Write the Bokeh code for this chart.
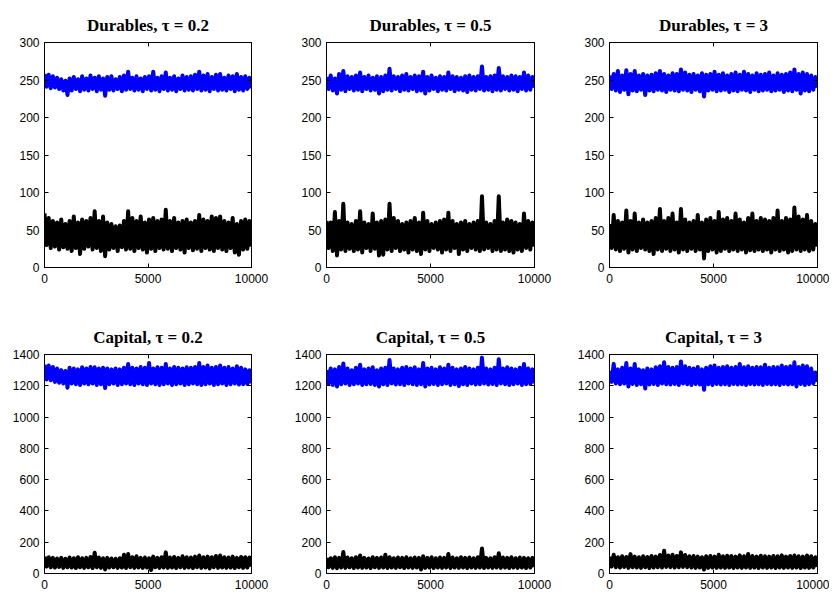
import numpy as np
from bokeh.plotting import figure
from bokeh.layouts import column, row
from bokeh.models import Range1d, FixedTicker, LinearAxis
from bokeh.embed import file_html
from bokeh.resources import INLINE

# ---- data (periods 0..10000) ----
# each series alternates local highs / lows of the noisy path
T_MAX = 10000
dur_ticks = [0, 50, 100, 150, 200, 250, 300]
cap_ticks = [0, 200, 400, 600, 800, 1000, 1200, 1400]
x_ticks = [0, 5000, 10000]

dur_02_blue = [258,241,257,239,255,240,253,238,251,236,249,230,252,236,254,238,251,235,255,237,
               252,236,256,238,253,235,255,237,252,229,254,237,255,236,251,238,254,235,256,237,
               261,238,253,236,255,237,252,235,254,238,255,236,261,237,253,235,255,238,260,236,
               253,237,255,235,252,238,256,236,254,237,255,236,257,238,261,236,256,237,258,235,
               254,238,257,236,258,237,253,236,256,238,255,235,258,237,254,236,255,238,253,239]
dur_02_black = [72,30,66,26,62,28,60,24,64,27,58,25,62,22,68,26,60,18,64,25,
                62,28,66,24,75,26,62,22,68,15,60,24,58,26,55,22,56,27,62,24,
                75,25,66,22,62,26,68,24,60,20,64,25,66,22,62,26,64,24,77,25,
                62,22,66,26,60,24,62,20,64,26,60,23,62,25,70,22,64,26,62,24,
                68,22,66,26,68,24,62,22,60,26,66,20,58,17,62,24,64,25,62,28]
dur_05_blue = [254,238,256,236,252,232,258,237,262,235,255,238,254,236,256,237,260,235,254,238,
               256,236,253,237,255,232,254,235,256,237,265,236,255,238,254,235,256,237,258,236,
               254,238,256,235,255,236,261,232,254,236,256,238,253,235,255,237,254,236,260,238,
               255,235,254,237,253,236,255,234,256,237,254,236,255,238,268,236,254,237,255,235,
               256,237,266,236,255,238,254,236,256,237,255,235,254,238,260,236,256,237,254,240]
dur_05_black = [62,26,60,22,74,16,62,24,85,22,60,25,58,22,62,24,75,20,60,26,
                58,22,72,25,60,16,62,17,64,24,85,22,66,26,62,22,58,24,60,20,
                62,24,66,22,60,18,73,24,62,22,58,26,60,24,62,20,64,24,73,22,
                62,26,58,18,60,24,62,22,58,26,60,24,62,22,95,24,60,26,58,22,
                62,24,95,22,60,24,64,22,62,20,60,24,58,22,72,26,62,24,60,28]
dur_3_blue = [256,238,258,236,262,234,256,237,263,231,258,236,262,235,256,237,258,230,256,236,
              257,235,259,237,262,236,258,234,256,237,259,236,258,235,264,237,260,236,257,234,
              258,237,256,235,259,228,257,236,258,237,261,235,257,236,259,237,256,234,258,236,
              260,235,257,237,261,236,258,234,256,237,259,235,257,236,258,237,260,235,256,236,
              259,237,257,234,258,236,260,235,264,237,258,232,260,236,258,235,256,237,254,240]
dur_3_black = [58,26,70,24,62,22,60,25,76,20,62,24,72,22,60,26,64,24,60,22,
               62,18,66,24,78,22,62,25,66,22,72,24,60,20,78,24,64,22,60,25,
               62,22,70,24,60,12,64,22,66,24,62,20,74,22,64,25,66,22,62,24,
               72,22,64,24,60,20,66,23,72,22,62,24,66,22,64,24,62,20,66,24,
               76,22,62,24,66,20,64,22,80,24,68,22,64,24,70,22,62,24,58,28]

cap_02_blue = [1335,1240,1330,1235,1320,1225,1310,1220,1300,1215,1295,1188,1315,1215,1310,1210,1305,1205,1318,1215,
               1310,1210,1320,1215,1318,1205,1310,1210,1315,1185,1310,1210,1305,1215,1310,1205,1305,1210,1315,1215,
               1340,1210,1315,1205,1310,1215,1320,1210,1315,1205,1345,1215,1310,1210,1318,1205,1315,1210,1340,1215,
               1310,1205,1320,1210,1315,1215,1310,1205,1318,1210,1315,1215,1320,1210,1345,1205,1320,1210,1330,1215,
               1315,1205,1320,1210,1330,1215,1315,1205,1320,1210,1310,1215,1325,1208,1315,1210,1305,1212,1300,1215]
cap_02_black = [108,45,104,40,100,38,96,42,100,36,94,40,102,38,98,35,104,40,98,36,
                100,40,106,35,132,40,102,36,98,26,100,38,96,40,94,36,98,38,120,35,
                125,40,104,36,110,38,100,36,102,38,98,22,108,40,100,36,104,38,135,36,
                102,38,106,35,100,40,110,36,104,38,102,35,108,40,115,36,104,38,108,32,
                104,40,112,36,115,38,104,36,102,38,108,35,100,40,106,36,104,38,102,45]
cap_05_blue = [1300,1215,1310,1205,1305,1195,1320,1210,1342,1215,1310,1205,1300,1210,1315,1215,1335,1205,1305,1210,
               1310,1212,1318,1205,1300,1195,1310,1210,1315,1205,1365,1215,1310,1208,1305,1210,1315,1205,1320,1215,
               1310,1210,1318,1205,1305,1210,1345,1195,1310,1208,1315,1212,1305,1205,1318,1210,1310,1215,1335,1205,
               1315,1210,1305,1198,1310,1210,1320,1205,1310,1215,1305,1208,1315,1210,1380,1215,1310,1208,1305,1212,
               1315,1205,1370,1215,1310,1210,1318,1205,1310,1210,1305,1215,1315,1205,1340,1210,1310,1212,1305,1215]
cap_05_black = [100,40,98,36,104,34,100,38,138,36,102,40,98,35,104,38,115,36,100,38,
                96,35,104,40,100,36,102,38,120,35,104,38,98,36,102,40,100,35,104,38,
                98,36,102,38,100,26,110,36,100,38,104,35,98,38,102,36,100,38,125,35,
                102,38,98,36,104,38,100,35,102,38,98,36,104,38,160,35,100,38,98,36,
                104,38,130,36,102,38,100,35,104,38,98,36,102,38,100,35,98,38,100,42]
cap_3_blue = [1295,1225,1340,1215,1305,1210,1315,1215,1345,1195,1310,1212,1340,1205,1305,1210,1300,1182,1310,1208,
              1305,1212,1318,1205,1325,1215,1350,1210,1320,1208,1315,1212,1320,1205,1355,1215,1325,1210,1315,1205,
              1310,1212,1320,1208,1305,1175,1315,1210,1325,1205,1330,1212,1315,1208,1320,1210,1325,1205,1315,1212,
              1320,1208,1340,1210,1318,1205,1325,1212,1315,1208,1320,1210,1318,1205,1335,1212,1315,1208,1320,1210,
              1318,1205,1330,1212,1320,1208,1325,1210,1350,1195,1320,1212,1330,1205,1325,1210,1310,1215,1285,1225]
cap_3_black = [108,45,120,40,104,38,110,42,106,36,124,40,108,38,104,36,110,40,106,35,
               112,38,108,40,118,38,145,42,115,40,120,38,112,40,135,42,118,40,110,38,
               112,36,108,38,104,25,110,36,112,38,108,36,120,38,110,36,114,38,112,35,
               108,38,116,36,110,38,125,36,112,38,108,35,114,38,110,36,108,38,112,35,
               110,38,116,36,108,38,112,36,115,38,110,35,108,38,115,36,110,38,104,42]

titles = ["Durables, \u03c4 = 0.2", "Durables, \u03c4 = 0.5", "Durables, \u03c4 = 3",
          "Capital, \u03c4 = 0.2", "Capital, \u03c4 = 0.5", "Capital, \u03c4 = 3"]

TICK_FONT = "Liberation Sans"
TITLE_FONT = "Liberation Serif"


def make_panel(title, blue, black, ymax, yticks, width, height, bl, br, bt, bb):
    p = figure(width=width, height=height, output_backend="svg", toolbar_location=None,
               x_range=Range1d(0, T_MAX), y_range=Range1d(0, ymax),
               min_border_left=bl, min_border_right=br, min_border_top=bt, min_border_bottom=bb,
               x_axis_location=None, y_axis_location=None)
    p.title.text = title
    p.title.align = "center"
    p.title.text_font = TITLE_FONT
    p.title.text_font_size = "17px"
    p.title.text_font_style = "bold"
    p.title.text_color = "black"
    p.title.standoff = 16
    p.grid.visible = False
    p.outline_line_color = "black"
    p.outline_line_width = 1
    p.background_fill_color = "white"
    p.border_fill_color = "white"

    for loc, ticks, show in (("left", yticks, True), ("right", yticks, False),
                             ("below", x_ticks, True), ("above", x_ticks, False)):
        ax = LinearAxis(ticker=FixedTicker(ticks=ticks))
        ax.axis_line_color = "black"
        ax.major_tick_in = 4
        ax.major_tick_out = 0
        ax.minor_tick_line_color = None
        ax.major_tick_line_color = "black"
        ax.major_label_text_font = TICK_FONT
        ax.major_label_text_color = "black"
        ax.major_label_text_font_size = "12px"
        if show:
            ax.major_label_standoff = 5 if loc == "left" else 6
        else:
            ax.major_label_overrides = {t: "" for t in ticks}
            ax.major_label_standoff = 0
        p.add_layout(ax, loc)

    xb = np.linspace(0, T_MAX, len(blue))
    xk = np.linspace(0, T_MAX, len(black))
    p.line(xb, blue, line_color="#0000ff", line_width=4, line_join="round")
    p.line(xk, black, line_color="black", line_width=4, line_join="round")
    return p


# (figure width, left border, right border) per column
col_dims = [(290, 44, 39), (283, 36, 39), (256, 36, 12)]
series = [(dur_02_blue, dur_02_black), (dur_05_blue, dur_05_black), (dur_3_blue, dur_3_black),
          (cap_02_blue, cap_02_black), (cap_05_blue, cap_05_black), (cap_3_blue, cap_3_black)]

top = []
bot = []
for i in range(3):
    w, bl, br = col_dims[i]
    top.append(make_panel(titles[i], series[i][0], series[i][1], 300, dur_ticks,
                          w, 300, bl, br, 42, 33))
    bot.append(make_panel(titles[i + 3], series[i + 3][0], series[i + 3][1], 1400, cap_ticks,
                          w, 291, bl, br, 54, 11))

layout = column(row(*top, spacing=0), row(*bot, spacing=0), spacing=0)
open("out.html", "w").write(file_html(layout, INLINE))
